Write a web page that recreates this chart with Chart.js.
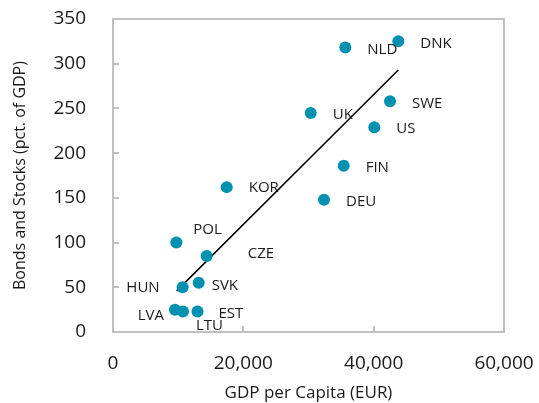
<!DOCTYPE html>
<html lang="en">
<head>
    <meta charset="UTF-8">
    <title>Bonds and Stocks vs GDP per Capita</title>
    <script src="https://cdn.jsdelivr.net/npm/chart.js"></script>
    <style>
        body { margin: 0; background: #fff; }
    </style>
</head>
<body>
    <canvas id="scatterChart" width="539" height="403"></canvas>

    <script>
        // Country data
        const countries = ['DNK', 'NLD', 'SWE', 'UK', 'US', 'FIN', 'DEU', 'KOR', 'POL', 'CZE', 'HUN', 'SVK', 'LVA', 'LTU', 'EST'];
        const gdpPerCapita = [43780, 35650, 42510, 30340, 40100, 35400, 32380, 17450, 9720, 14380, 10690, 13150, 9510, 10740, 12970];
        const bondsStocks = [325, 318, 258, 245, 229, 186, 148, 162, 100, 85, 50, 55, 25, 23, 23];

        // Trend line end points
        const trendX = [9770, 43780];
        const trendY = [46, 293];

        // Axis ticks
        const xTicks = [0, 20000, 40000, 60000];
        const yTicks = [0, 50, 100, 150, 200, 250, 300, 350];

        // label placement relative to its point: [dx, dy, align]
        const labelOffsets = {
            POL: [17, -13, 'left'],
            CZE: [41, -2, 'left'],
            HUN: [-23, 0, 'right'],
            SVK: [13, 3, 'left'],
            LVA: [-11, 6, 'right'],
            LTU: [13, 14, 'left'],
            EST: [21, 2, 'left'],
            KOR: [22, 1, 'left']
        };

        const frameColor = '#c0c0c0';
        const textColor = '#1a1a1a';

        const boxPlugin = {
            id: 'box',
            beforeDatasetsDraw(chart) {
                const a = chart.chartArea;
                const ctx = chart.ctx;
                ctx.save();
                ctx.strokeStyle = frameColor;
                ctx.lineWidth = 2;
                ctx.strokeRect(a.left, a.top, a.right - a.left, a.bottom - a.top);
                ctx.restore();
            }
        };

        const labelPlugin = {
            id: 'pointLabels',
            afterDatasetsDraw(chart) {
                const ctx = chart.ctx;
                const xs = chart.scales.x;
                const ys = chart.scales.y;
                ctx.save();
                ctx.font = '15px "Open Sans"';
                ctx.fillStyle = textColor;
                ctx.textBaseline = 'middle';
                countries.forEach((c, i) => {
                    const off = labelOffsets[c] || [22, 2, 'left'];
                    ctx.textAlign = off[2];
                    ctx.fillText(c, xs.getPixelForValue(gdpPerCapita[i]) + off[0], ys.getPixelForValue(bondsStocks[i]) + off[1]);
                });
                ctx.restore();
            }
        };

        // keep the plot box where the reference has it
        function noScalePadding(s) {
            s.paddingTop = 0;
            s.paddingBottom = 0;
            s.paddingLeft = 0;
            s.paddingRight = 0;
        }

        const ctx = document.getElementById('scatterChart').getContext('2d');
        const chart = new Chart(ctx, {
            type: 'scatter',
            data: {
                datasets: [{
                    label: 'Countries',
                    data: countries.map((c, i) => ({ x: gdpPerCapita[i], y: bondsStocks[i] })),
                    backgroundColor: '#0090b0',
                    borderWidth: 0,
                    pointRadius: 6,
                    pointHoverRadius: 6
                }, {
                    type: 'line',
                    label: 'Trend',
                    data: trendX.map((x, i) => ({ x: x, y: trendY[i] })),
                    borderColor: '#000',
                    borderWidth: 1.5,
                    pointRadius: 0,
                    fill: false
                }]
            },
            options: {
                responsive: false,
                animation: false,
                layout: { padding: { left: 0, top: 19, right: 35, bottom: 0 } },
                plugins: {
                    legend: { display: false },
                    tooltip: { enabled: false }
                },
                scales: {
                    x: {
                        type: 'linear',
                        min: 0,
                        max: 60000,
                        afterBuildTicks: s => { s.ticks = xTicks.map(v => ({ value: v })); },
                        afterFit: s => { s.height = 71; noScalePadding(s); },
                        border: { display: false },
                        grid: { drawOnChartArea: false, tickLength: -6, color: frameColor, lineWidth: 2 },
                        ticks: {
                            padding: 26,
                            color: textColor,
                            font: { family: 'Open Sans', size: 19 },
                            callback: v => v.toLocaleString('en-US')
                        },
                        title: {
                            display: true,
                            text: 'GDP per Capita (EUR)',
                            color: textColor,
                            font: { family: 'Open Sans', size: 17 },
                            padding: { top: 0, bottom: 0 }
                        }
                    },
                    y: {
                        min: 0,
                        max: 350,
                        afterBuildTicks: s => { s.ticks = yTicks.map(v => ({ value: v })); },
                        afterFit: s => { s.width = 113; noScalePadding(s); },
                        border: { display: false },
                        grid: { drawOnChartArea: false, tickLength: -6, color: frameColor, lineWidth: 2 },
                        ticks: {
                            padding: 33,
                            color: textColor,
                            font: { family: 'Open Sans', size: 19 }
                        },
                        title: {
                            display: true,
                            text: 'Bonds and Stocks (pct. of GDP)',
                            color: textColor,
                            font: { family: 'Open Sans', size: 16 },
                            padding: { top: 11, bottom: 0 }
                        }
                    }
                }
            },
            plugins: [boxPlugin, labelPlugin]
        });
    </script>
</body>
</html>
